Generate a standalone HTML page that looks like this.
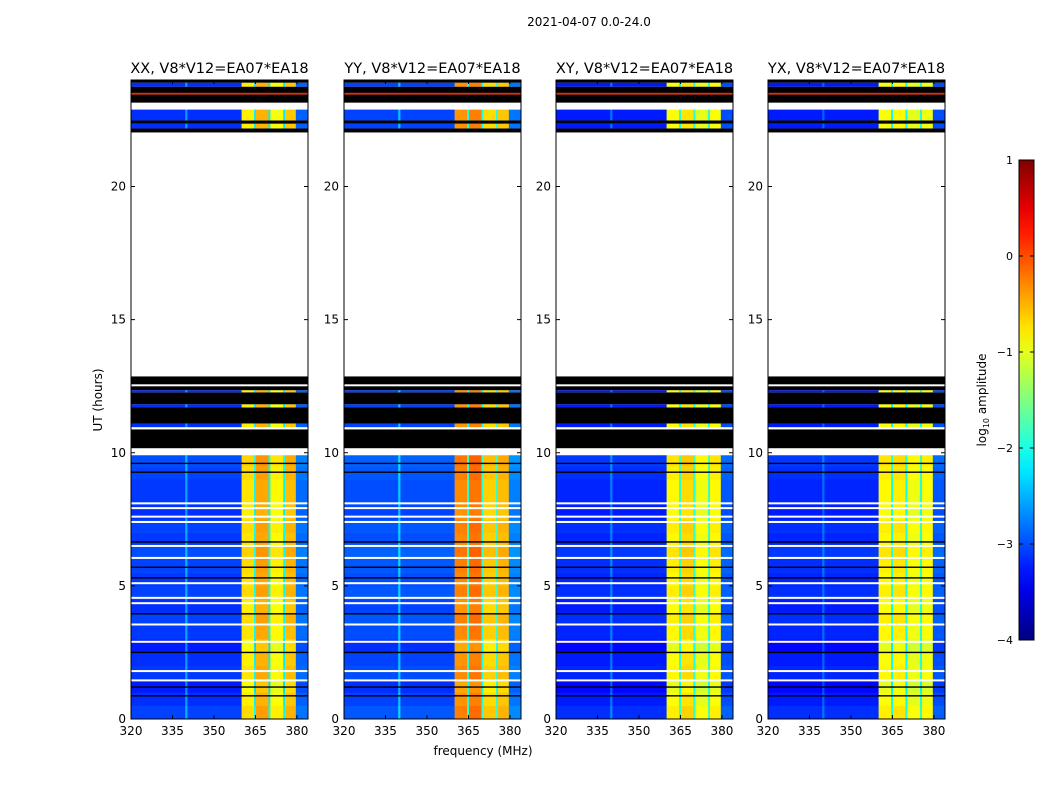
<!DOCTYPE html>
<html><head><meta charset="utf-8">
<style>
body{margin:0;background:#fff;}
svg text{font-family:"DejaVu Sans","Liberation Sans",sans-serif;fill:#000;}
</style></head>
<body>
<svg id="chart" width="1050" height="800" xmlns="http://www.w3.org/2000/svg"></svg>
<script>
// ---------- data ----------
const panelTitles = ["XX, V8*V12=EA07*EA18","YY, V8*V12=EA07*EA18","XY, V8*V12=EA07*EA18","YX, V8*V12=EA07*EA18"];
const xTicks = [320,335,350,365,380];
const yTicks = [0,5,10,15,20];
const cbTicks = [1,0,-1,-2,-3,-4];
// frequency band edges (MHz) and log10 amplitude per band per panel
const bandEdges = [320,339.6,340.4,360,364.5,365.2,369.7,370.4,375,375.7,379.6,384];
const bandXX = [-3.15,-2.6,-3.15,-0.8,-2.2,-0.5,-2.2,-0.9,-2.2,-0.6,-2.9];
const bandYY = [-3.05,-2.4,-3.05,-0.35,-2.0,-0.25,-2.0,-0.7,-2.0,-0.6,-2.8];
const bandXY = [-3.25,-2.8,-3.25,-0.9,-2.0,-0.75,-2.0,-1.0,-2.0,-0.9,-3.0];
const bandYX = [-3.25,-2.9,-3.25,-0.9,-2.1,-0.85,-2.1,-1.0,-2.1,-0.95,-3.0];
const panelBands = [bandXX,bandYY,bandXY,bandYX];
// slow variation of level with time (every 0.5 h from 0 to 10 h)
const timeLevels = [0.1,0.0,-0.1,0.05,0.0,-0.1,0.05,0.1,0.0,0.1,0.05,0.1,0.15,0.05,0.1,0.0,0.05,0.05,0.1,0.15];
// segments [startHour, endHour, kind] kind: 'd' data, 'k' flagged(black), 'w' empty(white), 'r' red line
const segments = [
 [9.91,10.17,'w'],[10.17,10.88,'k'],[10.88,10.96,'w'],[10.96,11.1,'d'],[11.1,11.7,'k'],
 [11.7,11.82,'d'],[11.82,12.27,'k'],[12.27,12.35,'d'],[12.35,12.5,'k'],[12.5,12.57,'w'],[12.57,12.87,'k'],
 [12.87,22.03,'w'],[22.03,22.18,'k'],[22.18,22.36,'d'],[22.36,22.48,'k'],[22.48,22.89,'d'],
 [22.89,23.15,'w'],[23.15,23.75,'k'],[23.45,23.52,'r'],[23.75,23.9,'d'],[23.9,24,'k']
];
const whiteLines = [8.1,7.92,7.6,7.4,6.5,6.05,5.1,4.55,4.35,3.55,2.9,1.8,1.45];
const blackLines = [9.6,9.27,6.65,5.7,5.3,3.95,2.5,1.2,0.87];

// ---------- layout ----------
const svg = document.getElementById('chart');
const NS = "http://www.w3.org/2000/svg";
const panelX = [131,344,556,768], PW = 177, PT = 80, PB = 719;
const fx = (f,i) => panelX[i] + (f-320)/64*PW;
const ty = h => PB - (h/24)*(PB-PT);
function jet(v){
  let t=(v+4)/5; t=Math.max(0,Math.min(1,t));
  const c=x=>Math.round(255*Math.max(0,Math.min(1,x)));
  return `rgb(${c(1.5-Math.abs(4*t-3))},${c(1.5-Math.abs(4*t-2))},${c(1.5-Math.abs(4*t-1))})`;
}
function el(tag,attrs,parent){const e=document.createElementNS(NS,tag);for(const k in attrs)e.setAttribute(k,attrs[k]);(parent||svg).appendChild(e);return e;}
function txt(s,attrs,parent){const e=el('text',attrs,parent);e.textContent=s;return e;}

const sup = txt("2021-04-07 0.0-24.0",{x:589,y:26,'font-size':12,'text-anchor':'middle'});



for(let i=0;i<4;i++){
  const g=el('g',{});
  
  
  const bands=panelBands[i];
  for(let r=0;r<timeLevels.length;r++){
    const h0=r*0.5, h1=Math.min(9.91,(r+1)*0.5);
    for(let b=0;b<bands.length;b++){
      const cell=el('rect',{x:fx(bandEdges[b],i),y:ty(h1),width:fx(bandEdges[b+1],i)-fx(bandEdges[b],i)+0.3,height:ty(h0)-ty(h1)+0.3,fill:jet(bands[b]+timeLevels[r])},g);
      
      
    }
  }
  for(const s of segments){
    if(s[2]==='d'){
      for(let b=0;b<bands.length;b++){
        const cell=el('rect',{x:fx(bandEdges[b],i),y:ty(s[1]),width:fx(bandEdges[b+1],i)-fx(bandEdges[b],i)+0.3,height:ty(s[0])-ty(s[1]),fill:jet(bands[b])},g);
        
        
      }
    } else {
      const col = s[2]==='k'?'#000':s[2]==='w'?'#fff':'#e03010';
      const seg=el('rect',{x:panelX[i],y:ty(s[1]),width:PW,height:ty(s[0])-ty(s[1]),fill:col},g);
      
      
    }
  }
  for(const h of whiteLines){
    const l=el('rect',{x:panelX[i],y:ty(h)-1,width:PW,height:2,fill:'#fff'},g);
    
    
  }
  for(const h of blackLines){
    const l=el('rect',{x:panelX[i],y:ty(h)-0.7,width:PW,height:1.4,fill:'#000'},g);
    
    
  }
  const fr=el('rect',{x:panelX[i],y:PT,width:PW,height:PB-PT,fill:'none',stroke:'#000','stroke-width':1},g);
  
  
  const t=txt(panelTitles[i],{x:panelX[i]+PW/2,y:73,'font-size':14.5,'text-anchor':'middle'},g);
  
  
  for(const v of xTicks){
    const x=fx(v,i);
    el('line',{x1:x,x2:x,y1:PB,y2:PB-4,stroke:'#000'},g);
    el('line',{x1:x,x2:x,y1:PT,y2:PT+4,stroke:'#000'},g);
    const l=txt(String(v),{x:x,y:PB+16,'font-size':12,'text-anchor':'middle'},g);
    
    
  }
  for(const v of yTicks){
    const y=ty(v);
    el('line',{x1:panelX[i],x2:panelX[i]+4,y1:y,y2:y,stroke:'#000'},g);
    el('line',{x1:panelX[i]+PW,x2:panelX[i]+PW-4,y1:y,y2:y,stroke:'#000'},g);
    const l=txt(String(v),{x:panelX[i]-5,y:y+4,'font-size':12,'text-anchor':'end'},g);
    
    
  }
}
const yl=txt("UT (hours)",{x:102,y:400,'font-size':12,'text-anchor':'middle',transform:'rotate(-90 102 400)'});


const xl=txt("frequency (MHz)",{x:483,y:755,'font-size':12,'text-anchor':'middle'});



// colorbar
const cb=el('g',{});


const defs=el('defs',{},cb);
const grad=el('linearGradient',{id:'jetg',x1:0,y1:1,x2:0,y2:0},defs);
for(let k=0;k<=20;k++){el('stop',{offset:k/20,'stop-color':jet(-4+5*k/20)},grad);}
const CBX=1019,CBT=160,CBB=640,CBW=15;
el('rect',{x:CBX,y:CBT,width:CBW,height:CBB-CBT,fill:'url(#jetg)',stroke:'#000'},cb);
for(const v of cbTicks){
  const y=CBB-(v+4)/5*(CBB-CBT);
  el('line',{x1:CBX,x2:CBX+4,y1:y,y2:y,stroke:'#000'},cb);
  el('line',{x1:CBX+CBW,x2:CBX+CBW-4,y1:y,y2:y,stroke:'#000'},cb);
  const l=txt(v<0?'\u2212'+(-v):String(v),{x:1013,y:y+4,'font-size':11,'text-anchor':'end'},cb);
  
  
}
const cl=txt("",{x:986,y:400,'font-size':12,'text-anchor':'middle',transform:'rotate(-90 986 400)'},cb);
cl.innerHTML='log<tspan font-size="8" dy="3">10</tspan><tspan dy="-3"> amplitude</tspan>';


</script>
</body></html>
